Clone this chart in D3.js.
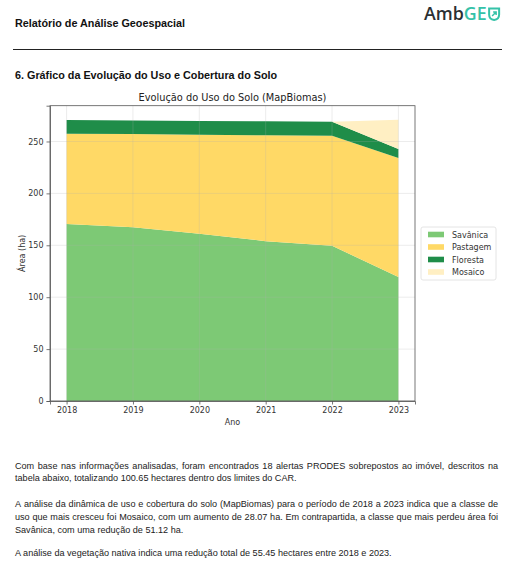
<!DOCTYPE html>
<html>
<head>
<meta charset="utf-8">
<script src="https://cdn.jsdelivr.net/npm/d3@7"></script>
<style>
  html, body { margin: 0; padding: 0; background: #fff; }
  svg { display: block; }
</style>
</head>
<body>
<svg id="page" width="513" height="561"></svg>
<script>
// Land-use classes (MapBiomas), area in hectares per year
const years = [2018, 2019, 2020, 2021, 2022, 2023];
const classes = ["Savânica", "Pastagem", "Floresta", "Mosaico"];
const savanica = [170.6, 167.4, 161.0, 154.0, 149.5, 119.48];
const pastagem = [86.9, 89.8, 95.6, 102.0, 106.0, 114.5];
const floresta = [13.2, 13.1, 13.2, 13.5, 13.5, 8.87];
const mosaico  = [0, 0, 0, 0, 0, 28.07];
const classColors = ["#7dc975", "#ffd966", "#1f8d49", "#ffefc3"];
const yTicks = [0, 50, 100, 150, 200, 250];

const paragraphs = [
  ["Com base nas informações analisadas, foram encontrados 18 alertas PRODES sobrepostos ao imóvel, descritos na",
   "tabela abaixo, totalizando 100.65 hectares dentro dos limites do CAR."],
  ["A análise da dinâmica de uso e cobertura do solo (MapBiomas) para o período de 2018 a 2023 indica que a classe de",
   "uso que mais cresceu foi Mosaico, com um aumento de 28.07 ha. Em contrapartida, a classe que mais perdeu área foi",
   "Savânica, com uma redução de 51.12 ha."],
  ["A análise da vegetação nativa indica uma redução total de 55.45 hectares entre 2018 e 2023."]
];

const svg = d3.select("#page");
const pageFont = "'Liberation Sans', Arial, sans-serif";
const chartFont = "'DejaVu Sans', sans-serif";

// ---- page header ----
svg.append("text").attr("x", 15).attr("y", 27)
  .attr("font-family", pageFont).attr("font-weight", "bold").attr("font-size", 10.8)
  .attr("fill", "#111").text("Relatório de Análise Geoespacial");

const logo = svg.append("g").attr("transform", "translate(424,20)");
const logoText = logo.append("text").attr("x", 0).attr("y", 0)
  .attr("font-family", "'Open Sans', sans-serif").attr("font-size", 17.8).attr("font-weight", 600);
logoText.append("tspan").attr("fill", "#2b2f33").text("Amb");
logoText.append("tspan").attr("fill", "#35c2a8").text("GE");
const lw = logoText.node().getComputedTextLength();
const icon = logo.append("g").attr("transform", `translate(${lw + 1.5},-12.5)`);
icon.append("path")
  .attr("d", "M1,1 H11 V7 Q11,12 6,12.5 Q1,12 1,7 Z")
  .attr("fill", "none").attr("stroke", "#35c2a8").attr("stroke-width", 2);
icon.append("path").attr("d", "M4,8.5 L8,4.5 M5,4.5 H8 V7.5")
  .attr("fill", "none").attr("stroke", "#35c2a8").attr("stroke-width", 1.5);

svg.append("line").attr("x1", 13).attr("x2", 502).attr("y1", 49.5).attr("y2", 49.5)
  .attr("stroke", "#222").attr("stroke-width", 1);

svg.append("text").attr("x", 15).attr("y", 79)
  .attr("font-family", pageFont).attr("font-weight", "bold").attr("font-size", 10.8)
  .attr("fill", "#111").text("6. Gráfico da Evolução do Uso e Cobertura do Solo");

// ---- chart ----
const plot = { left: 50, right: 415, top: 105.7, bottom: 401 };
const rows = years.map((y, i) => ({
  year: y,
  "Savânica": savanica[i], "Pastagem": pastagem[i], "Floresta": floresta[i], "Mosaico": mosaico[i]
}));
const stack = d3.stack().keys(classes)(rows);
const maxTotal = d3.max(stack[stack.length - 1], d => d[1]);

const x = d3.scaleLinear()
  .domain([years[0] - 0.05 * (years[5] - years[0]), years[5] + 0.05 * (years[5] - years[0])])
  .range([plot.left, plot.right]);
const y = d3.scaleLinear().domain([0, maxTotal * 1.05]).range([plot.bottom, plot.top]);

svg.append("text").attr("x", (plot.left + plot.right) / 2).attr("y", 101)
  .attr("text-anchor", "middle").attr("font-family", chartFont).attr("font-size", 9.8)
  .attr("fill", "#222").text("Evolução do Uso do Solo (MapBiomas)");

const area = d3.area().x(d => x(d.data.year)).y0(d => y(d[0])).y1(d => y(d[1]));
svg.append("g").selectAll("path").data(stack).join("path")
  .attr("d", area).attr("fill", (d, i) => classColors[i]);

// grid
const grid = svg.append("g").attr("stroke", "#b0b0b0").attr("stroke-opacity", 0.3).attr("stroke-width", 0.8);
years.forEach(v => grid.append("line").attr("x1", x(v)).attr("x2", x(v)).attr("y1", plot.top).attr("y2", plot.bottom));
yTicks.forEach(v => grid.append("line").attr("x1", plot.left).attr("x2", plot.right).attr("y1", y(v)).attr("y2", y(v)));

// frame
svg.append("rect").attr("x", plot.left).attr("y", plot.top)
  .attr("width", plot.right - plot.left).attr("height", plot.bottom - plot.top)
  .attr("fill", "none").attr("stroke", "#555").attr("stroke-width", 0.8);

// axes
const xAxis = svg.append("g").attr("transform", `translate(0,${plot.bottom})`)
  .call(d3.axisBottom(x).tickValues(years).tickFormat(d3.format("d")).tickSize(3.5).tickPadding(3));
const yAxis = svg.append("g").attr("transform", `translate(${plot.left},0)`)
  .call(d3.axisLeft(y).tickValues(yTicks).tickSize(3.5).tickPadding(3));
[xAxis, yAxis].forEach(a => {
  a.select(".domain").attr("stroke", "#555").attr("stroke-width", 0.8);
  a.selectAll(".tick line").attr("stroke", "#555").attr("stroke-width", 0.8);
  a.selectAll(".tick text").attr("font-family", chartFont).attr("font-size", 8).attr("fill", "#333");
});

svg.append("text").attr("x", (plot.left + plot.right) / 2).attr("y", 425)
  .attr("text-anchor", "middle").attr("font-family", chartFont).attr("font-size", 8)
  .attr("fill", "#333").text("Ano");
svg.append("text").attr("transform", `translate(25,${(plot.top + plot.bottom) / 2}) rotate(-90)`)
  .attr("text-anchor", "middle").attr("font-family", chartFont).attr("font-size", 8)
  .attr("fill", "#333").text("Área (ha)");

// legend
const legend = svg.append("g").attr("transform", "translate(421,227)");
legend.append("rect").attr("width", 75).attr("height", 53).attr("rx", 2)
  .attr("fill", "#fff").attr("stroke", "#ddd").attr("stroke-width", 0.8);
classes.forEach((c, i) => {
  const g = legend.append("g").attr("transform", `translate(0,${7.5 + i * 12.5})`);
  g.append("rect").attr("x", 7).attr("y", -2.8).attr("width", 16).attr("height", 5.6).attr("fill", classColors[i]);
  g.append("text").attr("x", 31).attr("y", 3).attr("font-family", chartFont).attr("font-size", 8)
    .attr("fill", "#333").text(c);
});

// ---- body text, justified between the margins ----
const textLeft = 15, textRight = 498, textSize = 9.1;
const baselines = [[469, 481], [507, 520, 533], [556]];
paragraphs.forEach((lines, p) => {
  lines.forEach((line, li) => {
    const base = baselines[p][li];
    const last = li === lines.length - 1;
    if (last) {
      svg.append("text").attr("x", textLeft).attr("y", base)
        .attr("font-family", pageFont).attr("font-size", textSize).attr("fill", "#222").text(line);
      return;
    }
    const words = line.split(" ");
    const t = svg.append("text").attr("y", base)
      .attr("font-family", pageFont).attr("font-size", textSize).attr("fill", "#222");
    const spans = words.map(w => t.append("tspan").text(w));
    const widths = spans.map(s => s.node().getComputedTextLength());
    const gap = (textRight - textLeft - d3.sum(widths)) / (words.length - 1);
    let cx = textLeft;
    spans.forEach((s, k) => { s.attr("x", cx); cx += widths[k] + gap; });
  });
});
</script>
</body>
</html>
